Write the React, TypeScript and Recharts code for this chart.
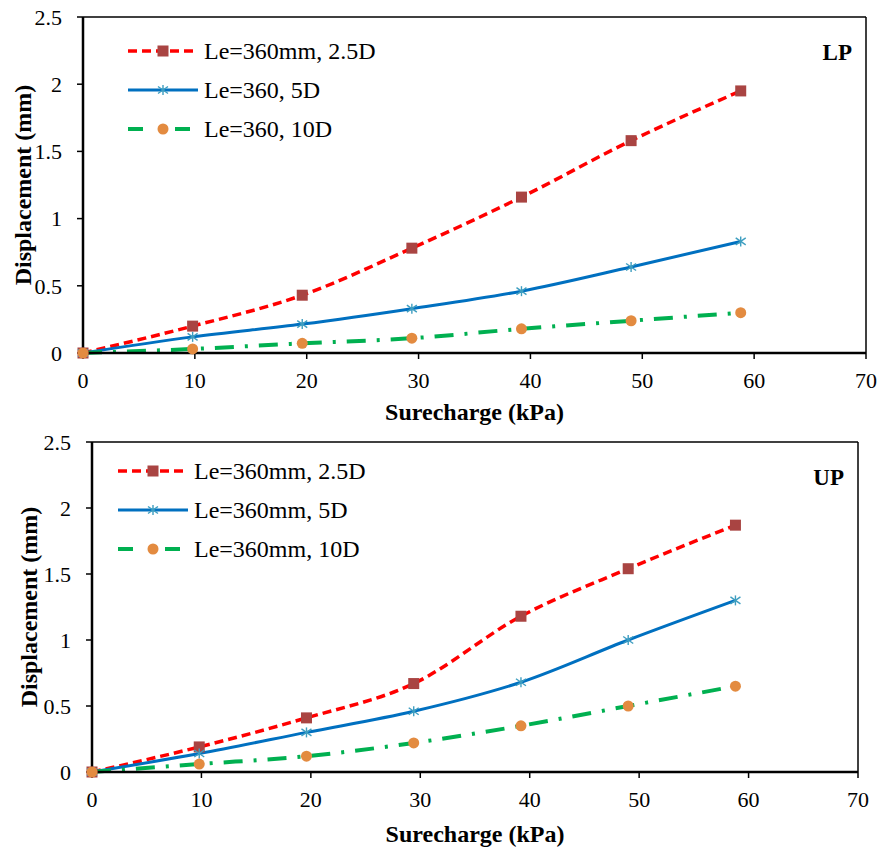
import React from 'react'
import { LineChart, Line, XAxis, YAxis, ReferenceLine, Legend } from 'recharts'

// surcharge steps (kPa), shared by both panels
const surcharge = [0, 9.8, 19.6, 29.4, 39.2, 49, 58.8]

// LP panel displacements (mm)
const lp25D = [0, 0.2, 0.43, 0.78, 1.16, 1.58, 1.95]
const lp5D = [0, 0.12, 0.215, 0.33, 0.46, 0.64, 0.83]
const lp10D = [0, 0.03, 0.072, 0.11, 0.18, 0.24, 0.3]

// UP panel displacements (mm)
const up25D = [0, 0.19, 0.41, 0.67, 1.18, 1.54, 1.87]
const up5D = [0, 0.14, 0.3, 0.46, 0.68, 1.0, 1.3]
const up10D = [0, 0.06, 0.12, 0.22, 0.35, 0.5, 0.65]

const lpNames = ['Le=360mm, 2.5D', 'Le=360, 5D', 'Le=360, 10D']
const upNames = ['Le=360mm, 2.5D', 'Le=360mm, 5D', 'Le=360mm, 10D']

const xTicks = [0, 10, 20, 30, 40, 50, 60, 70]
const yTicks = [0, 0.5, 1, 1.5, 2, 2.5]

const FONT = 'Liberation Serif, Times New Roman, serif'

type Marker = 'square' | 'star' | 'circle'

const SERIES = [
  { key: 'd25', stroke: '#FF0000', width: 3.5, dash: '9 5', marker: 'square' as Marker },
  { key: 'd5', stroke: '#0070C0', width: 3, dash: undefined, marker: 'star' as Marker },
  { key: 'd10', stroke: '#00B050', width: 4, dash: '19 11 3 11', marker: 'circle' as Marker },
]

function drawMarker(kind: Marker, cx: number, cy: number, key?: React.Key) {
  if (kind === 'square') {
    return <rect key={key} x={cx - 5.5} y={cy - 5.5} width={11} height={11} fill="#A94442" />
  }
  if (kind === 'circle') {
    return <circle key={key} cx={cx} cy={cy} r={5.5} fill="#E38B40" />
  }
  const r = 5
  return (
    <g key={key} stroke="#3E9EC0" strokeWidth={1.4}>
      <line x1={cx} y1={cy - r} x2={cx} y2={cy + r} />
      <line x1={cx - r} y1={cy - r * 0.7} x2={cx + r} y2={cy + r * 0.7} />
      <line x1={cx - r} y1={cy + r * 0.7} x2={cx + r} y2={cy - r * 0.7} />
    </g>
  )
}

function buildRows(a: number[], b: number[], c: number[]) {
  return surcharge.map((x, i) => ({ x, d25: a[i], d5: b[i], d10: c[i] }))
}

function LegendSwatch({ i }: { i: number }) {
  const s = SERIES[i]
  return (
    <svg width={76} height={20} style={{ flex: 'none' }}>
      {s.marker === 'circle' ? (
        <g stroke={s.stroke} strokeWidth={s.width}>
          <line x1={0} y1={10} x2={15} y2={10} />
          <line x1={47} y1={10} x2={62} y2={10} />
        </g>
      ) : (
        <line x1={0} y1={10} x2={70} y2={10} stroke={s.stroke} strokeWidth={s.width} strokeDasharray={s.dash} />
      )}
      {drawMarker(s.marker, 35, 10)}
    </svg>
  )
}

function LegendBox({ names }: { names: string[] }) {
  return (
    <div style={{ fontFamily: FONT, fontSize: 24, color: '#000' }}>
      {names.map((n, i) => (
        <div key={n} style={{ display: 'flex', alignItems: 'center', height: 39, whiteSpace: 'nowrap' }}>
          <LegendSwatch i={i} />
          <span style={{ lineHeight: 1 }}>{n}</span>
        </div>
      ))}
    </div>
  )
}

interface PanelProps {
  rows: ReturnType<typeof buildRows>
  names: string[]
  tag: string
  height: number
  margin: { top: number; right: number; bottom: number; left: number }
  yWidth: number
  xHeight: number
  tickGap: number
  titleGap: number
  yTitleX: number
  legendPos: { left: number; top: number }
}

const tickStyle = { fill: '#000', fontSize: 22, fontFamily: FONT }
const titleStyle = { fontFamily: FONT, fontSize: 24, fontWeight: 'bold' as const }

function Panel(p: PanelProps) {
  return (
    <LineChart width={878} height={p.height} data={p.rows} margin={p.margin} style={{ fontFamily: FONT }}>
      <XAxis
        type="number"
        dataKey="x"
        domain={[0, 70]}
        ticks={xTicks}
        height={p.xHeight}
        axisLine={{ stroke: '#000', strokeWidth: 2.5 }}
        tickLine={{ stroke: '#000', strokeWidth: 1.5 }}
        tickSize={6}
        tickMargin={p.tickGap}
        tick={tickStyle}
        label={{
          content: ({ viewBox }: any) => (
            <text x={viewBox.x + viewBox.width / 2} y={viewBox.y + p.titleGap} dy="0.36em"
              textAnchor="middle" style={titleStyle} fill="#000">
              Surecharge (kPa)
            </text>
          ),
        }}
      />
      <YAxis
        type="number"
        domain={[0, 2.5]}
        ticks={yTicks}
        width={p.yWidth}
        axisLine={{ stroke: '#000', strokeWidth: 2.5 }}
        tickLine={{ stroke: '#000', strokeWidth: 1.5 }}
        tickSize={6}
        tickMargin={15}
        tick={tickStyle}
        label={{
          content: ({ viewBox }: any) => {
            const cx = viewBox.x + p.yTitleX
            const cy = viewBox.y + viewBox.height / 2
            return (
              <text x={cx} y={cy} dy="0.36em" transform={`rotate(-90 ${cx} ${cy})`}
                textAnchor="middle" style={titleStyle} fill="#000">
                Displacement (mm)
              </text>
            )
          },
        }}
      />
      <ReferenceLine y={2.5} stroke="#000" strokeWidth={1.5}
        label={{
          content: ({ viewBox }: any) => (
            <text x={viewBox.x + viewBox.width - 14} y={viewBox.y + 35} dy="0.36em" textAnchor="end"
              style={{ fontFamily: FONT, fontSize: 23, fontWeight: 'bold' }} fill="#000">
              {p.tag}
            </text>
          ),
        }}
      />
      <ReferenceLine x={70} stroke="#000" strokeWidth={1.5} />
      <Legend
        layout="vertical"
        align="center"
        verticalAlign="middle"
        wrapperStyle={{ left: p.legendPos.left, top: p.legendPos.top, width: 'auto' }}
        content={() => <LegendBox names={p.names} />}
      />
      {SERIES.map((s, i) => (
        <Line
          key={s.key}
          name={p.names[i]}
          dataKey={s.key}
          type="monotone"
          stroke={s.stroke}
          strokeWidth={s.width}
          strokeDasharray={s.dash}
          dot={(d: any) => drawMarker(s.marker, d.cx, d.cy, d.index)}
          activeDot={false}
          isAnimationActive={false}
        />
      ))}
    </LineChart>
  )
}

export default function App() {
  return (
    <div style={{ position: 'absolute', left: 0, top: 0, width: 878, height: 848, background: '#fff', fontFamily: FONT }}>
      <div style={{ position: 'absolute', left: 0, top: 0 }}>
        <Panel
          rows={buildRows(lp25D, lp5D, lp10D)}
          names={lpNames}
          tag="LP"
          height={430}
          margin={{ top: 17, right: 12, bottom: 10, left: 0 }}
          yWidth={83}
          xHeight={67}
          tickGap={13}
          titleGap={58}
          yTitleX={22}
          legendPos={{ left: 128, top: 31 }}
        />
      </div>
      <div style={{ position: 'absolute', left: 0, top: 420 }}>
        <Panel
          rows={buildRows(up25D, up5D, up10D)}
          names={upNames}
          tag="UP"
          height={428}
          margin={{ top: 22, right: 20, bottom: 0, left: 0 }}
          yWidth={92}
          xHeight={76}
          tickGap={13}
          titleGap={61}
          yTitleX={28}
          legendPos={{ left: 118, top: 31 }}
        />
      </div>
    </div>
  )
}
